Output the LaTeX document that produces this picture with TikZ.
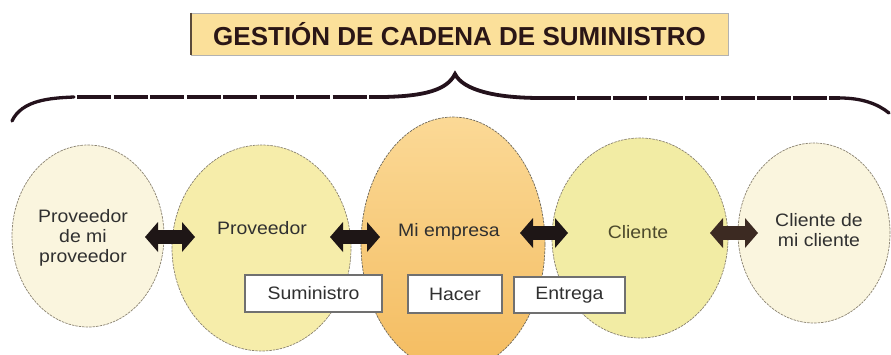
\documentclass[tikz,border=0pt]{standalone}
\usepackage{fontspec}
\setmainfont{Liberation Sans}
\newfontfamily\lbl[FakeStretch=1.08]{Liberation Sans}
\usetikzlibrary{shapes.geometric,arrows.meta,calc}
\definecolor{titlefill}{HTML}{FBE09A}
\definecolor{titleedge}{HTML}{5A4A3A}
\definecolor{titletxt}{HTML}{2A1616}
\definecolor{cream}{HTML}{FAF5DE}
\definecolor{yel}{HTML}{F6EDAA}
\definecolor{yelg}{HTML}{F2ECA4}
\definecolor{orgtop}{HTML}{FBD996}
\definecolor{orgmid}{HTML}{F8C97A}
\definecolor{orgbot}{HTML}{F4BC60}
\definecolor{outl}{HTML}{8A8270}
\definecolor{txt}{HTML}{303030}
\definecolor{olive}{HTML}{4D4A2C}
\definecolor{arrk}{HTML}{1E1616}
\definecolor{arrb}{HTML}{3C2A22}
\definecolor{bracec}{HTML}{24121C}
\definecolor{boxedge}{HTML}{707070}
\tikzset{
  ell/.style={ellipse, draw=outl, line width=0.7pt, dash pattern=on 2.5pt off 1pt, inner sep=0pt},
  lbltext/.style={font=\lbl\fontsize{18}{20}\selectfont, text=txt, align=center, inner sep=0pt},
  stagebox/.style={draw=boxedge, line width=1.1pt, fill=white, inner sep=0pt, font=\lbl\fontsize{18}{20}\selectfont, text=txt},
  dblarrow/.style={line width=14pt, draw=arrk,
    {Triangle[width=30pt,length=13pt,line width=0pt]}-{Triangle[width=30pt,length=13pt,line width=0pt]}},
  bracepart/.style={draw=bracec, line width=3.3pt, line cap=round}
}
\begin{document}
\begin{tikzpicture}[x=1pt,y=-1pt]
\useasboundingbox (0,0) rectangle (891,354);
% title
\node[draw=gray!60, line width=0.8pt, fill=titlefill, minimum width=537pt, minimum height=42pt, inner sep=0pt,
      font=\bfseries\fontsize{26}{30}\selectfont, text=titletxt] (title) at (459.5,34) {GESTIÓN DE CADENA DE SUMINISTRO};
\draw[titleedge, line width=2pt] (title.north west) -- (title.south west);
% brace
\coordinate (bl) at (12,121);
\coordinate (bl2) at (74,97);
\coordinate (bm1) at (384,97);
\coordinate (btip) at (455,74);
\coordinate (bm2) at (541,98);
\coordinate (br2) at (840,98);
\coordinate (br) at (889,113);
\draw[bracepart] (bl) .. controls (22,100) and (50,98) .. (bl2);
\draw[draw=bracec, line width=3.1pt, dash pattern=on 34pt off 2.5pt] ($(bl2)+(3,0)$) -- (bm1);
\draw[bracepart, line width=3.8pt] (bm1) .. controls (425,96) and (447,90) .. (btip)
  .. controls (463,90) and (495,98) .. (bm2);
\draw[draw=bracec, line width=3.1pt, dash pattern=on 34pt off 2pt] (bm2) -- (br2);
\draw[bracepart] (br2) .. controls (862,98) and (878,104) .. (br);
% ellipses
\node[ell, fill=cream, minimum width=152pt, minimum height=182pt] (e1) at (88,236) {};
\node[ell, fill=yel, minimum width=179pt, minimum height=206pt] (e2) at (261.5,248) {};
\node[ell, draw=outl!80!black, top color=orgtop, middle color=orgmid, bottom color=orgbot, minimum width=184pt, minimum height=254pt] (e3) at (453,244) {};
\node[ell, fill=yelg, minimum width=176pt, minimum height=200pt] (e4) at (640,238) {};
\node[ell, fill=cream, minimum width=152pt, minimum height=180pt] (e5) at (814,233) {};
% labels
\node[lbltext] (t1) at (83,238) {Proveedor\\de mi\\proveedor};
\node[lbltext] (t2) at (262,228) {Proveedor};
\node[lbltext] (t3) at (449,232) {Mi empresa};
\node[lbltext, text=olive] (t4) at (638,232) {Cliente};
\node[lbltext] (t5) at (819,230) {Cliente de\\mi cliente};
% boxes
\node[stagebox, minimum width=137pt, minimum height=37pt] (b1) at (313.5,293.5) {Suministro};
\node[stagebox, minimum width=94pt, minimum height=38pt] (b2) at (455,294) {Hacer};
\node[stagebox, minimum width=111pt, minimum height=36pt] (b3) at (569.5,295) {Entrega};
% arrows
\coordinate (a1l) at (145,237); \coordinate (a1r) at (195,237);
\coordinate (a2l) at (330,237); \coordinate (a2r) at (380,237);
\coordinate (a3l) at (520,233); \coordinate (a3r) at (568,233);
\coordinate (a4l) at (710,233); \coordinate (a4r) at (758,233);
\draw[dblarrow] (a1l) -- (a1r);
\draw[dblarrow] (a2l) -- (a2r);
\draw[dblarrow] (a3l) -- (a3r);
\draw[dblarrow, draw=arrb, fill=arrb] (a4l) -- (a4r);
\end{tikzpicture}
\end{document}
